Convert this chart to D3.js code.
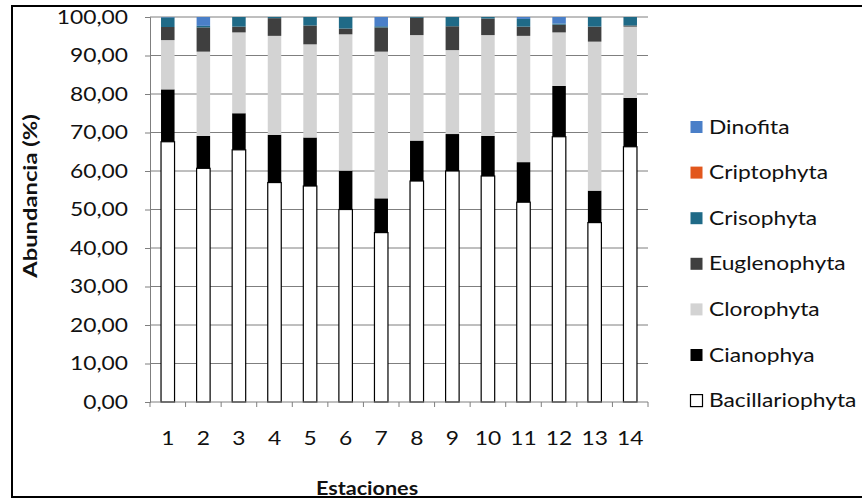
<!DOCTYPE html>
<html>
<head>
<meta charset="utf-8">
<script src="https://cdn.jsdelivr.net/npm/d3@7"></script>
<style>
  html, body { margin: 0; padding: 0; background: #fff; }
  svg { display: block; font-family: Lato, "Open Sans", sans-serif; }
</style>
</head>
<body>
<svg id="chart"></svg>
<script>
// data (percent of total abundance per station)
const estaciones = ["1", "2", "3", "4", "5", "6", "7", "8", "9", "10", "11", "12", "13", "14"];
const bacillariophyta = [67.6, 60.7, 65.5, 57.0, 56.1, 50.0, 44.0, 57.4, 60.0, 58.7, 51.9, 68.9, 46.6, 66.3];
const cianophya = [13.6, 8.4, 9.5, 12.4, 12.6, 10.1, 8.9, 10.5, 9.6, 10.4, 10.4, 13.2, 8.3, 12.7];
const clorophyta = [12.8, 21.9, 21.0, 25.7, 24.2, 35.4, 38.1, 27.4, 21.8, 26.2, 32.8, 13.9, 38.7, 18.5];
const euglenophyta = [3.4, 6.3, 1.5, 4.6, 4.9, 1.5, 6.3, 4.5, 6.2, 4.3, 2.4, 2.0, 3.9, 0.3];
const crisophyta = [2.5, 0.4, 2.5, 0.3, 2.2, 3.0, 0.3, 0.2, 2.4, 0.4, 2.0, 0.3, 2.5, 2.2];
const criptophyta = [0, 0, 0, 0, 0, 0, 0, 0, 0, 0, 0, 0, 0, 0];
const dinofita = [0.1, 2.3, 0, 0, 0, 0, 2.4, 0, 0, 0, 0.5, 1.7, 0, 0];
const yTicks = [0, 10, 20, 30, 40, 50, 60, 70, 80, 90, 100];

const width = 862, height = 500;
const margin = { top: 17, right: 214, bottom: 98, left: 150 };
const stretch = 1.2; // reference text is wider than Lato

const series = [
  { name: "Bacillariophyta", values: bacillariophyta, color: "#ffffff", stroke: "#000" },
  { name: "Cianophya", values: cianophya, color: "#000000" },
  { name: "Clorophyta", values: clorophyta, color: "#d3d3d3" },
  { name: "Euglenophyta", values: euglenophyta, color: "#3f3f3f" },
  { name: "Crisophyta", values: crisophyta, color: "#1f6a87" },
  { name: "Criptophyta", values: criptophyta, color: "#e2571d" },
  { name: "Dinofita", values: dinofita, color: "#4a7fc8" }
];

const table = estaciones.map((e, i) => {
  const row = { estacion: e };
  series.forEach(s => { row[s.name] = s.values[i]; });
  return row;
});
const stacked = d3.stack().keys(series.map(s => s.name))(table);

const svg = d3.select("#chart").attr("width", width).attr("height", height);
const g = svg.append("g").attr("transform", `translate(${margin.left},${margin.top})`);
const innerW = width - margin.left - margin.right;
const innerH = height - margin.top - margin.bottom;

const x = d3.scaleBand().domain(estaciones).range([0, innerW]).paddingInner(0.62).paddingOuter(0.31);
const y = d3.scaleLinear().domain([0, 100]).range([innerH, 0]);

// gridlines
g.append("g")
  .selectAll("line")
  .data(yTicks.slice(1))
  .join("line")
  .attr("x1", 0).attr("x2", innerW)
  .attr("y1", d => y(d)).attr("y2", d => y(d))
  .attr("stroke", "#7f7f7f").attr("stroke-width", 1);

// bars
stacked.forEach((layer, li) => {
  const s = series[li];
  g.append("g")
    .selectAll("rect")
    .data(layer)
    .join("rect")
    .attr("x", d => x(d.data.estacion))
    .attr("width", x.bandwidth())
    .attr("y", d => y(d[1]))
    .attr("height", d => Math.max(0, y(d[0]) - y(d[1])))
    .attr("fill", s.color)
    .attr("stroke", s.stroke || "none")
    .attr("stroke-width", 1.2);
});

// y axis
const yAxis = g.append("g")
  .call(d3.axisLeft(y).tickValues(yTicks).tickSize(5)
    .tickFormat(d => d3.format(".2f")(d).replace(".", ",")));
yAxis.select(".domain").attr("stroke", "#7f7f7f");
yAxis.selectAll(".tick line").attr("stroke", "#7f7f7f");
yAxis.selectAll("text")
  .attr("x", 0)
  .attr("transform", `translate(-22,0) scale(${stretch},1)`)
  .attr("font-size", 19).attr("fill", "#111").attr("font-family", "Lato, sans-serif");

// x axis: ticks between categories like Excel
const xAxisG = g.append("g").attr("transform", `translate(0,${innerH})`);
xAxisG.append("line").attr("x1", 0).attr("x2", innerW).attr("stroke", "#7f7f7f");
const step = x.step();
xAxisG.selectAll("line.tk")
  .data(d3.range(estaciones.length + 1))
  .join("line").attr("class", "tk")
  .attr("x1", i => i * step).attr("x2", i => i * step)
  .attr("y1", 0).attr("y2", 5)
  .attr("stroke", "#7f7f7f");
xAxisG.selectAll("text")
  .data(estaciones)
  .join("text")
  .attr("transform", d => `translate(${x(d) + x.bandwidth() / 2},43) scale(${stretch},1)`)
  .attr("text-anchor", "middle")
  .attr("font-size", 19)
  .attr("fill", "#111")
  .text(d => d);

// axis titles
svg.append("text")
  .attr("transform", `translate(37,196) rotate(-90) scale(1.25,1)`)
  .attr("text-anchor", "middle")
  .attr("font-size", 19).attr("font-weight", "bold").attr("fill", "#111")
  .text("Abundancia (%)");
svg.append("text")
  .attr("transform", `translate(367,495) scale(${stretch},1)`)
  .attr("text-anchor", "middle")
  .attr("font-size", 18).attr("font-weight", "bold").attr("fill", "#111")
  .text("Estaciones");

// legend (top to bottom: last series first)
const legend = svg.append("g").attr("transform", "translate(690,127)");
const legItems = series.slice().reverse();
const li = legend.selectAll("g").data(legItems).join("g")
  .attr("transform", (d, i) => `translate(0,${i * 45.6})`);
li.append("rect")
  .attr("x", 0.5).attr("y", -6).attr("width", 12).attr("height", 12)
  .attr("fill", d => d.color)
  .attr("stroke", d => d.stroke || "none").attr("stroke-width", 1.2);
li.append("text")
  .attr("transform", `translate(19,0) scale(${stretch},1)`)
  .attr("dy", "0.35em")
  .attr("font-size", 19).attr("fill", "#111")
  .text(d => d.name);

// outer frame
svg.append("rect")
  .attr("x", 12).attr("y", 6).attr("width", 855).attr("height", 491)
  .attr("fill", "none").attr("stroke", "#000").attr("stroke-width", 2);
</script>
</body>
</html>
